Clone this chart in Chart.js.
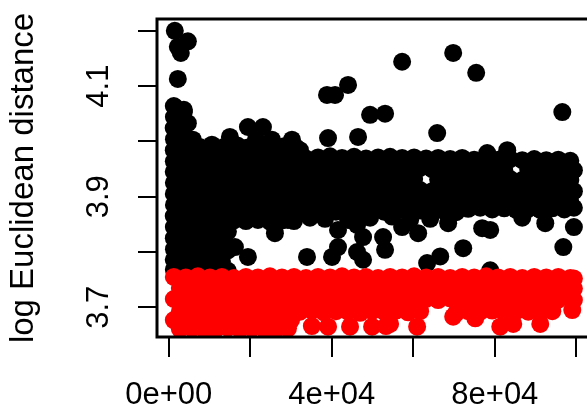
<!DOCTYPE html>
<html><head><meta charset="utf-8">
<script src="https://cdn.jsdelivr.net/npm/chart.js@4.4.1/dist/chart.umd.min.js"></script>
<style>
html,body{margin:0;padding:0;overflow:hidden;background:#fff;width:587px;height:410px}
#wrap{width:600px;height:410px}
</style>
</head><body><div id="wrap"><canvas id="c" width="600" height="410"></canvas></div>
<script>
const xTicks = [0, 20000, 40000, 60000, 80000, 100000];
const xTickLabels = ['0e+00', '', '4e+04', '', '8e+04', ''];
const yTicks = [3.7, 3.8, 3.9, 4.0, 4.1, 4.2];
const yTickLabels = ['3.7', '', '3.9', '', '4.1', ''];
const yTitle = 'log Euclidean distance';

// points above the threshold (black)
const blackPoints = [
[1470,4.200],[4670,4.181],[2210,4.171],[2950,4.160],[2210,4.113],[1470,4.062],[3690,4.057],[4670,4.033],
[38820,4.084],[40790,4.084],[43980,4.102],[49390,4.048],[53070,4.050],[57250,4.144],[69780,4.160],[75430,4.124],[96560,4.053],
[5900,4.003],[10570,3.994],[14990,4.008],[19410,4.026],[23100,4.026],[25310,4.003],[30220,4.003],[39070,4.006],[46440,4.008],[65850,4.015],
[8350,3.984],[12530,3.984],[16950,3.992],[21380,4.003],[27760,3.984],[32190,3.984],[78130,3.979],[83050,3.984],
[7600,3.990],[10600,3.992],[13500,3.990],[16500,3.993],[19400,3.989],[22400,3.992],[25300,3.990],[28300,3.991],[31200,3.989],
[1230,4.064],[1250,4.044],[1200,4.024],[1260,4.004],[1220,3.984],[1240,3.964],[1210,3.945],[1250,3.925],[1230,3.905],[1260,3.885],[1210,3.865],[1240,3.845],[1230,3.825],[1260,3.805],[1220,3.786],[1240,3.768],
[3690,4.053],[3710,4.033],[3670,4.013],[3700,3.993],[3680,3.974],[3720,3.954],[3690,3.934],[3670,3.914],[3710,3.894],[3690,3.874],[3700,3.854],[3680,3.834],[3710,3.815],[3690,3.795],[3700,3.775],
[5900,3.984],[5880,3.964],[5920,3.945],[5900,3.925],[5870,3.905],[5910,3.885],[5890,3.865],[5920,3.845],[5900,3.825],[5880,3.805],[5910,3.786],[5900,3.768],
[7125,3.971],[10074,3.973],[13022,3.970],[15970,3.972],[18918,3.969],[21866,3.971],[24815,3.973],[27763,3.970],[30711,3.972],[33659,3.969],[36607,3.971],[39556,3.973],[42504,3.970],[45452,3.972],[48400,3.969],[51348,3.971],[54297,3.972],[57245,3.970],[60193,3.971],[63141,3.969],[66089,3.970],[69038,3.968],[71986,3.970],[74934,3.967],[77882,3.969],[80830,3.967],[83779,3.968],[86727,3.966],[89675,3.968],[92623,3.966],[95571,3.967],[98520,3.965],
[8599,3.951],[11548,3.949],[14496,3.952],[17444,3.950],[20392,3.951],[23340,3.949],[26289,3.952],[29237,3.950],[32185,3.951],[35133,3.949],[38081,3.952],[41030,3.950],[43978,3.951],[46926,3.949],[49874,3.952],[52822,3.950],[55771,3.951],[58719,3.949],[61667,3.952],[64615,3.950],[67563,3.951],[70512,3.949],[73460,3.950],[76408,3.948],[79356,3.950],[82304,3.948],[88201,3.949],[91149,3.947],[94097,3.949],[97045,3.947],[99400,3.948],
[7125,3.931],[10074,3.933],[13022,3.930],[15970,3.932],[18918,3.931],[21866,3.929],[24815,3.932],[27763,3.930],[30711,3.931],[33659,3.929],[36607,3.932],[39556,3.930],[42504,3.931],[45452,3.929],[48400,3.932],[51348,3.930],[54297,3.931],[57245,3.929],[60193,3.932],[66089,3.931],[69038,3.929],[71986,3.932],[74934,3.930],[77882,3.931],[80830,3.929],[83779,3.932],[86727,3.930],[89675,3.931],[92623,3.929],[95571,3.932],[98520,3.930],
[8599,3.911],[11548,3.913],[14496,3.910],[17444,3.912],[20392,3.911],[23340,3.909],[26289,3.912],[29237,3.910],[32185,3.911],[35133,3.909],[38081,3.912],[41030,3.910],[43978,3.911],[46926,3.909],[49874,3.912],[52822,3.910],[55771,3.911],[58719,3.909],[61667,3.912],[64615,3.910],[67563,3.911],[70512,3.909],[73460,3.912],[76408,3.910],[79356,3.911],[82304,3.909],[85253,3.912],[88201,3.910],[91149,3.911],[94097,3.909],[97045,3.912],[99400,3.910],
[7125,3.892],[10074,3.890],[13022,3.893],[15970,3.891],[18918,3.892],[21866,3.890],[24815,3.893],[27763,3.891],[30711,3.892],[33659,3.890],[36607,3.893],[39556,3.891],[42504,3.892],[45452,3.890],[48400,3.893],[51348,3.891],[54297,3.892],[57245,3.890],[60193,3.893],[63141,3.891],[66089,3.892],[69038,3.890],[71986,3.893],[74934,3.891],[77882,3.892],[80830,3.890],[83779,3.893],[86727,3.891],[89675,3.892],[92623,3.890],[95571,3.893],[98520,3.891],
[8599,3.874],[11548,3.872],[14496,3.875],[17444,3.873],[20392,3.874],[23340,3.872],[26289,3.875],[29237,3.873],[32185,3.874],[35133,3.872],[38081,3.875],[41030,3.873],[43978,3.874],[46926,3.872],[49874,3.875],[52822,3.873],[55771,3.874],[58719,3.872],[61667,3.875],[64615,3.873],[67563,3.874],[70512,3.872],[73460,3.878],[76408,3.880],[79356,3.877],[82304,3.879],[85253,3.876],[88201,3.878],[91149,3.876],[94097,3.879],[97045,3.877],[99400,3.880],
[7125,3.856],[10074,3.858],[13022,3.855],[15970,3.857],[18918,3.856],[21866,3.858],[24815,3.855],[27763,3.857],[30711,3.856],
[8599,3.838],[11548,3.840],[14496,3.837],[26040,3.834],
[7125,3.820],[10074,3.822],[13022,3.819],[16220,3.809],
[8599,3.802],[11548,3.800],[14496,3.803],
[7125,3.784],[10074,3.786],[13022,3.783],[19410,3.791],
[8599,3.767],[11548,3.769],[14496,3.766],
[41520,3.840],[46190,3.849],[47670,3.827],[52580,3.827],[57250,3.845],[61180,3.834],[59210,3.858],[29240,3.858],
[68550,3.852],[76900,3.843],[78870,3.840],[86730,3.862],[92380,3.852],[99400,3.845],
[34640,3.862],[38330,3.860],[49390,3.862],[54790,3.864],[64130,3.860],[44000,3.858],
[33910,3.791],[40050,3.791],[41520,3.809],[46190,3.800],[47670,3.786],[53070,3.804],[63390,3.780],[66600,3.792],[72240,3.807],[78870,3.767],[96810,3.809]
];

// points below the threshold (red)
const redPoints = [
[1229,3.755],[4177,3.754],[7125,3.756],[10074,3.754],[13022,3.755],[15970,3.753],[18918,3.755],[21866,3.754],[24815,3.756],[27763,3.754],[30711,3.755],[33659,3.753],[36607,3.755],[39556,3.754],[42504,3.756],[45452,3.754],[48400,3.755],[51348,3.753],[54297,3.755],[57245,3.754],[60193,3.756],[63141,3.754],[66089,3.755],[69038,3.753],[71986,3.755],[74934,3.754],[77882,3.756],[80830,3.754],[83779,3.755],[86727,3.753],[89675,3.755],[92623,3.754],[95571,3.755],[98520,3.753],[99400,3.752],
[2703,3.735],[5651,3.734],[8599,3.736],[11548,3.735],[14496,3.733],[17444,3.736],[20392,3.734],[23340,3.735],[26289,3.733],[29237,3.736],[32185,3.734],[35133,3.735],[38081,3.733],[41030,3.736],[43978,3.734],[46926,3.735],[49874,3.733],[52822,3.736],[55771,3.734],[58719,3.735],[61667,3.733],[64615,3.736],[67563,3.734],[70512,3.735],[73460,3.733],[76408,3.736],[79356,3.734],[82304,3.735],[85253,3.733],[88201,3.736],[91149,3.734],[94097,3.735],[97045,3.733],[99400,3.734],
[1229,3.715],[4177,3.716],[7125,3.714],[10074,3.715],[13022,3.717],[15970,3.714],[18918,3.716],[21866,3.715],[24815,3.713],[27763,3.716],[30711,3.715],[33659,3.717],[36607,3.714],[39556,3.716],[42504,3.715],[45452,3.713],[48400,3.716],[51348,3.715],[54297,3.717],[57245,3.714],[60193,3.716],[63141,3.715],[66089,3.713],[69038,3.716],[71986,3.715],[74934,3.717],[77882,3.714],[80830,3.716],[83779,3.715],[86727,3.713],[89675,3.716],[92623,3.715],[95571,3.714],[98520,3.716],[99400,3.713],
[2703,3.692],[5651,3.693],[8599,3.691],[11548,3.692],[14496,3.694],[17444,3.691],[20392,3.693],[23340,3.692],[26289,3.690],[29237,3.693],[32185,3.692],[35133,3.694],[38081,3.691],[41030,3.693],[43978,3.692],[46926,3.690],[49874,3.693],[52822,3.692],[55771,3.694],[58719,3.691],[61667,3.693],[70512,3.690],[73460,3.693],[76408,3.692],[79356,3.694],[82304,3.691],[85253,3.693],[88201,3.692],[91149,3.690],[94097,3.693],[99000,3.695],
[1229,3.677],[4177,3.678],[7125,3.676],[10074,3.677],[13022,3.679],[15970,3.676],[18918,3.678],[21866,3.677],[24815,3.675],[27763,3.678],[30000,3.677],
[2703,3.661],[5651,3.662],[8599,3.660],[11548,3.661],[14496,3.663],[17444,3.660],[20392,3.662],[23340,3.661],[26289,3.659],[29237,3.662],
[69780,3.683],[75200,3.680],
[35100,3.666],[39070,3.665],[44470,3.665],[49880,3.665],[53300,3.666],[54300,3.670],[60930,3.665],[81330,3.665],[84520,3.670],[91150,3.670]
];

const FONT = "'Liberation Sans', Arial, Helvetica, sans-serif";

const boxPlugin = {
  id: 'box',
  afterDatasetsDraw(chart) {
    const { ctx, chartArea: a } = chart;
    ctx.save();
    ctx.strokeStyle = '#000';
    ctx.lineWidth = 3;
    ctx.strokeRect(a.left, a.top, a.right - a.left, a.bottom - a.top);
    ctx.restore();
  }
};

// rotated y tick labels, placed with the y scale
const yLabelPlugin = {
  id: 'yLabels',
  afterDraw(chart) {
    const { ctx } = chart;
    const ys = chart.scales.y;
    ctx.save();
    ctx.fillStyle = '#000';
    ctx.font = '31px ' + FONT;
    ctx.textAlign = 'center';
    ctx.textBaseline = 'middle';
    yTicks.forEach((v, i) => {
      const t = yTickLabels[i];
      if (!t) return;
      const py = ys.getPixelForValue(v);
      ctx.save();
      ctx.translate(99, py);
      ctx.rotate(-Math.PI / 2);
      ctx.fillText(t, 0, 0);
      ctx.restore();
    });
    ctx.restore();
  }
};

new Chart(document.getElementById('c'), {
  type: 'scatter',
  data: {
    datasets: [
      { label: 'above', data: blackPoints.map(p => ({ x: p[0], y: p[1] })),
        backgroundColor: '#000000', pointBackgroundColor: '#000000', borderWidth: 0, pointBorderWidth: 0,
        pointRadius: 9, order: 1, clip: 0 },
      { label: 'below', data: redPoints.map(p => ({ x: p[0], y: p[1] })),
        backgroundColor: '#ff0000', pointBackgroundColor: '#ff0000', borderWidth: 0, pointBorderWidth: 0,
        pointRadius: 9, order: 0, clip: 0 }
    ]
  },
  options: {
    responsive: false,
    animation: false,
    events: [],
    layout: { padding: { left: 0, top: 19, right: 9, bottom: 0 } },
    plugins: { legend: { display: false }, tooltip: { enabled: false } },
    scales: {
      x: {
        type: 'linear', position: 'bottom', min: -2900, max: 103600,
        afterBuildTicks: s => { s.ticks = xTicks.map(v => ({ value: v })); },
        afterFit: s => { s.height = 73; s.paddingLeft = 0; s.paddingRight = 0; s.paddingTop = 0; s.paddingBottom = 0; },
        border: { display: false },
        grid: { display: true, drawOnChartArea: false, drawTicks: true, tickLength: 20, color: '#000', lineWidth: 2 },
        ticks: { autoSkip: false, maxRotation: 0, minRotation: 0, padding: 20, color: '#000',
                 font: { family: FONT, size: 31 }, callback: (v, i) => xTickLabels[i] }
      },
      y: {
        type: 'linear', position: 'left', min: 3.6463, max: 4.2213,
        afterBuildTicks: s => { s.ticks = yTicks.map(v => ({ value: v })); },
        afterFit: s => { s.width = 157; s.paddingLeft = 0; s.paddingRight = 0; s.paddingTop = 0; s.paddingBottom = 0; },
        border: { display: false },
        grid: { display: true, drawOnChartArea: false, drawTicks: true, tickLength: 19, color: '#000', lineWidth: 2 },
        ticks: { display: false, autoSkip: false },
        title: { display: true, text: yTitle, color: '#000', font: { family: FONT, size: 33 }, padding: { top: 4, bottom: 0 } }
      }
    }
  },
  plugins: [boxPlugin, yLabelPlugin]
});
</script>
</body></html>
